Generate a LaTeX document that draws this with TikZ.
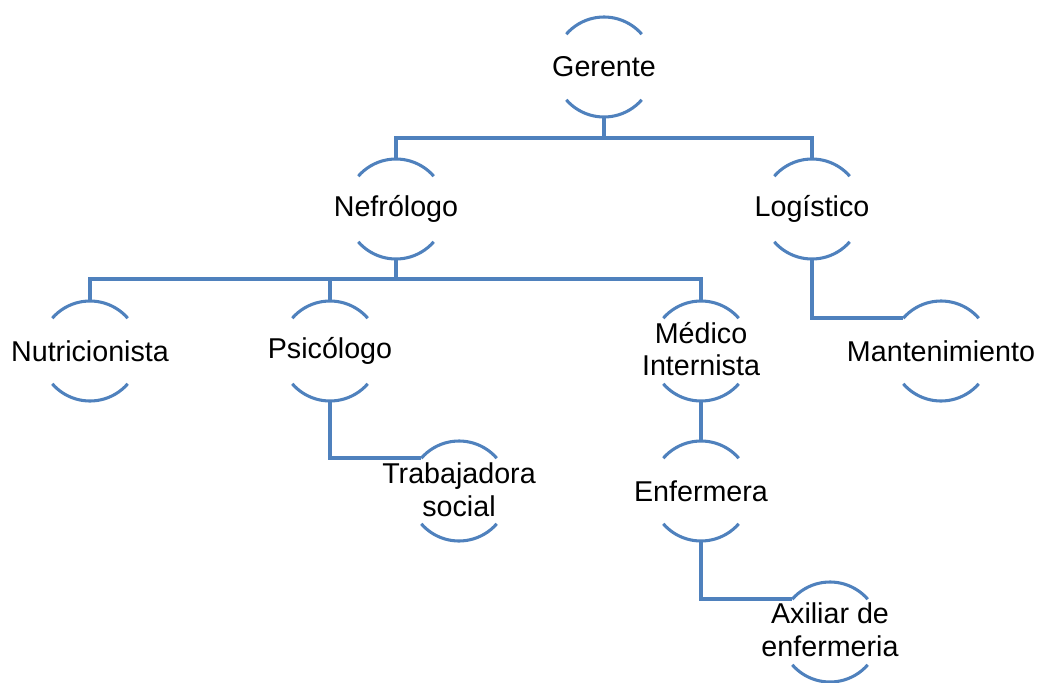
\documentclass[tikz,border=0pt]{standalone}
\usepackage{fontspec}
\setmainfont{Liberation Sans}
\usetikzlibrary{positioning,calc}
\definecolor{lineblue}{RGB}{79,129,189}

\begin{document}
\begin{tikzpicture}[x=0.75pt,y=-0.75pt,
    member/.style={font=\fontsize{21.5}{24.5}\selectfont, align=center, inner sep=0pt},
    ring/.style={lineblue, line width=2.3pt},
    link/.style={lineblue, line width=2.3pt}]
      \useasboundingbox (0,0) rectangle (1039,682);
      \node[member] (ger) at (604,67) {Gerente};
      \node[member] (nef) at (396,209) {Nefrólogo};
      \node[member] (log) at (812,209) {Logístico};
      \node[member] (nut) at (90,351) {Nutricionista};
      \node[member] (psi) at (330,351) {Psicólogo};
      \node[member] (med) at (701,349) {Médico\\Internista};
      \node[member] (man) at (941,351) {Mantenimiento};
      \node[member] (tra) at (459,490) {Trabajadora\\social};
      \node[member] (enf) at (701,491) {Enfermera};
      \node[member] (axi) at (830,630) {Axiliar de\\enfermeria};
      % half rings
      \foreach \n/\cx/\cy in {ger/604/67, nef/396/209, log/812/209, nut/90/351,
          psi/330/351, med/701/351, man/941/351, tra/459/491, enf/701/491, axi/830/632}
        \draw[ring] (\cx,\cy) ++(41:37.5pt) arc (41:139:37.5pt)
                    (\cx,\cy) ++(221:37.5pt) arc (221:319:37.5pt);
      % connectors
      \draw[link] ($(ger)+(0,51)$) -- ++(0,20) -| ($(nef)+(0,-50)$);
      \draw[link] ($(ger)+(0,51)$) -- ++(0,20) -| ($(log)+(0,-50)$);
      \draw[link] ($(nef)+(0,51)$) -- ++(0,19) -| ($(nut)+(0,-50)$);
      \draw[link] ($(nef)+(0,51)$) -- ++(0,19) -| ($(psi)+(0,-50)$);
      \draw[link] ($(nef)+(0,51)$) -- ++(0,19) -| ($(med)+(0,-48)$);
      \draw[link] ($(log)+(0,51)$) |- ($(man)+(-38,-33)$);
      \draw[link] ($(psi)+(0,50)$) |- ($(tra)+(-38,-32)$);
      \draw[link] ($(med)+(0,52)$) -- ($(enf)+(0,-50)$);
      \draw[link] ($(enf)+(0,50)$) |- ($(axi)+(-38,-31)$);
\end{tikzpicture}
\end{document}
